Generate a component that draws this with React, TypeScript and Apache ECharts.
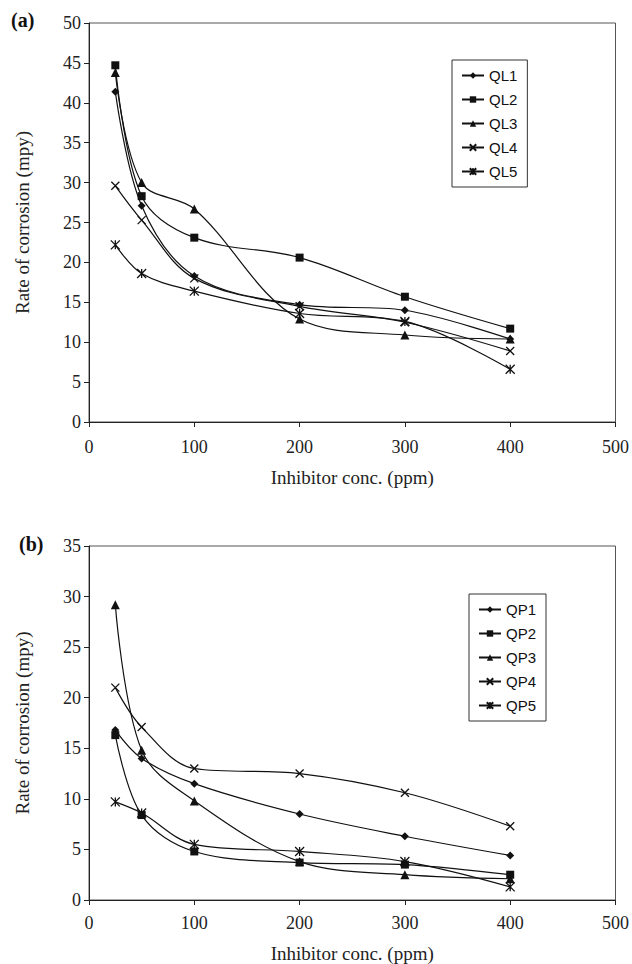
import React, { useEffect, useRef } from "react";
import * as echarts from "echarts";

const xValues = [25, 50, 100, 200, 300, 400];

const qlNames = ["QL1", "QL2", "QL3", "QL4", "QL5"];
const ql1 = [41.4, 27.1, 18.3, 14.7, 14.0, 10.4];
const ql2 = [44.7, 28.3, 23.1, 20.6, 15.7, 11.7];
const ql3 = [43.8, 30.0, 26.7, 12.9, 10.9, 10.4];
const ql4 = [29.6, 25.3, 18.0, 14.5, 12.5, 8.9];
const ql5 = [22.2, 18.6, 16.4, 13.6, 12.6, 6.6];

const qpNames = ["QP1", "QP2", "QP3", "QP4", "QP5"];
const qp1 = [16.8, 14.0, 11.5, 8.5, 6.3, 4.4];
const qp2 = [16.3, 8.4, 4.8, 3.7, 3.5, 2.5];
const qp3 = [29.2, 14.8, 9.8, 3.8, 2.5, 2.1];
const qp4 = [21.0, 17.1, 13.0, 12.5, 10.6, 7.3];
const qp5 = [9.7, 8.6, 5.5, 4.8, 3.8, 1.3];

const xTicks = [0, 100, 200, 300, 400, 500];
const yTicksA = [0, 5, 10, 15, 20, 25, 30, 35, 40, 45, 50];
const yTicksB = [0, 5, 10, 15, 20, 25, 30, 35];

const X_SYM = "path://M0,0L10,10M10,0L0,10";
const AST_SYM = "path://M0,0L10,10M10,0L0,10M5,0L5,10";
const symbols = ["diamond", "rect", "triangle", X_SYM, AST_SYM];
const symSizes = [8, 8, 9, 8, 9];

const serif = "Liberation Serif";
const sans = "Liberation Sans";

export default function App() {
  const ref = useRef<HTMLDivElement>(null);
  useEffect(() => {
    if (!ref.current) return;
    const chart = echarts.init(ref.current, undefined, { renderer: "svg" });

    const mkSeries = (names: string[], datas: number[][], idx: number) =>
      datas.map((d, i) => ({
        name: names[i],
        type: "line",
        xAxisIndex: idx,
        yAxisIndex: idx,
        smooth: 0.35,
        data: d.map((v, j) => [xValues[j], v]),
        symbol: symbols[i],
        symbolSize: symSizes[i],
        lineStyle: { color: "#111", width: 1.2 },
        itemStyle: { color: "#111", borderColor: "#111", borderWidth: i >= 3 ? 1.3 : 0 },
        emphasis: { disabled: true },
      }));

    const xAxisCfg = (idx: number, margin: number, gap: number) => ({
      type: "value",
      gridIndex: idx,
      min: xTicks[0],
      max: xTicks[xTicks.length - 1],
      interval: 100,
      axisLine: { show: true, lineStyle: { color: "#222", width: 1 } },
      axisTick: { show: true, inside: false, length: 5, lineStyle: { color: "#222" } },
      axisLabel: { fontFamily: serif, fontSize: 18, color: "#222", margin },
      splitLine: { show: false },
      name: "Inhibitor conc. (ppm)",
      nameLocation: "middle",
      nameGap: gap,
      nameTextStyle: { fontFamily: serif, fontSize: 19, color: "#222" },
    });

    const yAxisCfg = (idx: number, ticks: number[]) => ({
      type: "value",
      gridIndex: idx,
      min: ticks[0],
      max: ticks[ticks.length - 1],
      interval: 5,
      axisLine: { show: true, lineStyle: { color: "#222", width: 1 } },
      axisTick: { show: true, inside: false, length: 5, lineStyle: { color: "#222" } },
      axisLabel: { fontFamily: serif, fontSize: 18, color: "#222", margin: 8 },
      splitLine: { show: false },
      name: "Rate of corrosion (mpy)",
      nameLocation: "middle",
      nameRotate: 90,
      nameGap: 57,
      nameTextStyle: { fontFamily: serif, fontSize: 19, color: "#222" },
    });

    const legendCfg = (names: string[], left: number, top: number) => ({
      data: names,
      orient: "vertical",
      left,
      top,
      itemWidth: 22,
      itemHeight: 8,
      itemGap: 9,
      padding: [8, 10, 8, 9],
      borderColor: "#333",
      borderWidth: 1,
      backgroundColor: "#fff",
      textStyle: { fontFamily: sans, fontSize: 15, color: "#111" },
      selectedMode: false,
    });

    chart.setOption({
      animation: false,
      backgroundColor: "#fff",
      grid: [
        { left: 89, top: 23, width: 527, height: 399, show: true, borderColor: "#555", borderWidth: 1 },
        { left: 89, top: 546, width: 527, height: 356, show: true, borderColor: "#555", borderWidth: 1 },
      ],
      xAxis: [xAxisCfg(0, 16, 46), xAxisCfg(1, 14, 44)],
      yAxis: [yAxisCfg(0, yTicksA), yAxisCfg(1, yTicksB)],
      legend: [legendCfg(qlNames, 452, 60), legendCfg(qpNames, 469, 594)],
      series: [
        ...mkSeries(qlNames, [ql1, ql2, ql3, ql4, ql5], 0),
        ...mkSeries(qpNames, [qp1, qp2, qp3, qp4, qp5], 1),
      ],
      graphic: [
        { type: "text", left: 11, top: 10, style: { text: "(a)", font: `bold 20px ${serif}`, fill: "#111" } },
        { type: "text", left: 19, top: 534, style: { text: "(b)", font: `bold 20px ${serif}`, fill: "#111" } },
      ],
    });
    return () => chart.dispose();
  }, []);
  return (
    <div
      ref={ref}
      style={{ position: "fixed", left: 0, top: 0, width: 632, height: 964, background: "#fff" }}
    />
  );
}
